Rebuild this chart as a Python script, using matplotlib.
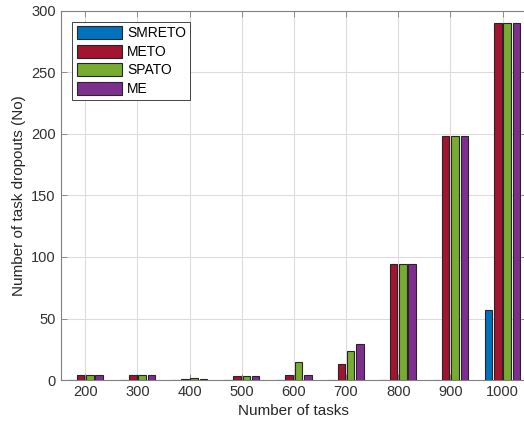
import numpy as np
import matplotlib
matplotlib.use("Agg")
import matplotlib.pyplot as plt

plt.rcParams["font.family"] = ["Liberation Sans", "DejaVu Sans"]

tasks = ["200", "300", "400", "500", "600", "700", "800", "900", "1000"]
smreto = [0, 0, 0, 0, 0, 0, 0, 0, 57]
meto = [4.5, 4.5, 0.5, 3, 4.5, 13, 94, 198, 290]
spato = [4.5, 4.5, 2, 3, 15, 23.5, 94, 198, 290]
me = [4.5, 4.5, 0.5, 3, 4.5, 29, 94, 198, 290]

series = [("SMRETO", smreto, "#0072BD"),
          ("METO", meto, "#A2142F"),
          ("SPATO", spato, "#77AC30"),
          ("ME", me, "#7E2F8E")]

fig = plt.figure(figsize=(5.24, 4.28), dpi=100)
ax = fig.add_axes([0.1158, 0.112, 0.89, 0.863])

x = np.arange(len(tasks))
pitch = 0.178
width = 0.145
for i, (name, vals, col) in enumerate(series):
    ax.bar(x + (i - 1.5) * pitch, vals, width, color=col, edgecolor="#262626",
           linewidth=0.8, label=name, zorder=3)

ax.set_xlim(-0.47, 8.47)
ax.set_ylim(0, 300)
ax.set_xticks(x)
ax.set_xticklabels(tasks)
ax.set_yticks(np.arange(0, 301, 50))
ax.tick_params(direction="in", length=4, labelsize=10.5, labelcolor="#303030",
               color="#808080", width=0.6, top=True, right=True)
ax.grid(True, color="#dcdcdc", linewidth=0.8, zorder=0)
ax.set_axisbelow(True)
for sp in ax.spines.values():
    sp.set_color("#808080")
    sp.set_linewidth(0.8)

ax.set_xlabel("Number of tasks", fontsize=11, color="#262626")
ax.set_ylabel("Number of task dropouts (No)", fontsize=11, color="#262626")

leg = ax.legend(loc="upper left", bbox_to_anchor=(0.025, 0.97), fontsize=10,
                fancybox=False, edgecolor="#262626", framealpha=1,
                handlelength=3.3, handleheight=1.1, borderpad=0.3,
                labelspacing=0.3, handletextpad=0.35, borderaxespad=0)
leg.get_frame().set_linewidth(0.6)

fig.savefig("out.png", dpi=100)
